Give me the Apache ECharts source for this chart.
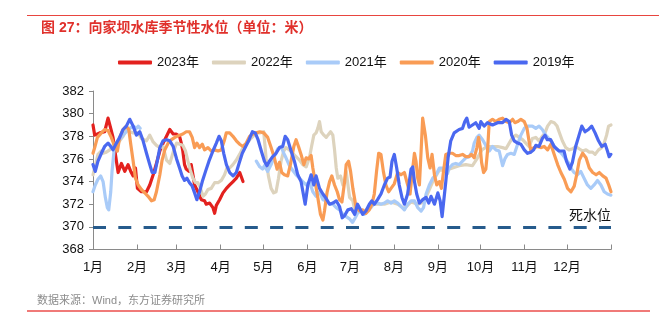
<!DOCTYPE html>
<html>
<head>
<meta charset="utf-8">
<script src="https://cdn.jsdelivr.net/npm/echarts@6/dist/echarts.min.js"></script>
<style>html,body{margin:0;padding:0;background:#fff}#c{width:659px;height:325px}</style>
</head>
<body>
<div id="c"></div>
<script>
// ---- data (x = day of year, y = water level in metres) ----
const monthLabels = ['1月','2月','3月','4月','5月','6月','7月','8月','9月','10月','11月','12月'];
const monthStarts = [0,31,59,90,120,151,181,212,243,273,304,334];
const yearEnd = 365;
const seriesNames = ['2023年','2022年','2021年','2020年','2019年'];
const deadLevel = 370;
const deadLabel = '死水位';

const s2023 = [[0,379.0],[1.2,378.1],[4.7,378.3],[8.2,378.4],[10.6,379.6],[12.5,378.7],[14.1,377.9],[16.5,375.8],[17.7,374.8],[20,375.6],[22.4,374.9],[24.7,375.5],[26.6,374.9],[28.3,374.5],[29.9,375.2],[31.3,373.4],[34.1,373.1],[37.7,373.1],[40,373.7],[42.4,374.6],[44.7,375.6],[47.1,376.7],[49.4,377.4],[51.8,378.0],[54.1,378.6],[56.5,378.2],[58.6,378.2],[61,378.0],[62.2,377.4],[63.3,376.7],[64.5,375.5],[65.7,375.1],[67.6,374.9],[69.2,375.5],[70.4,374.6],[71.6,373.7],[73.9,373.1],[76.3,372.4],[78.6,372.3],[79.8,372.0],[82.2,372.1],[84.5,371.7],[85.7,371.2],[86.9,371.9],[89.2,372.4],[91.6,373.0],[94,373.4],[96.3,373.7],[98.7,374.0],[101,374.3],[103.4,374.8],[105.7,374.0]];

const s2022 = [[0,374.6],[2,375.6],[3.5,376.4],[5.9,376.7],[7.1,376.5],[9.4,376.6],[11.8,376.8],[14.1,377.2],[16.5,377.4],[18.8,377.6],[21.2,378.0],[23.5,378.6],[25.9,378.4],[28.3,378.3],[31.8,378.3],[34.1,377.8],[37.7,377.6],[40,378.1],[42.4,377.5],[44.7,377.2],[47.1,377.0],[49.4,377.1],[51.8,375.9],[54.1,375.6],[56.5,376.6],[58.9,377.4],[61,377.3],[63.3,377.2],[65.2,376.7],[66.9,375.8],[68.6,375.0],[70.4,374.3],[72.3,373.9],[73.9,373.9],[75.5,373.5],[77.5,372.7],[79.2,372.9],[81,373.3],[83.3,373.4],[85.7,373.9],[88.1,373.9],[90.4,374.1],[92.7,374.6],[94.4,375.2],[96.3,375.2],[98.6,375.5],[101,375.9],[103.3,376.4],[105.7,377.0],[108,377.3],[110.4,377.7],[112.7,378.0],[115.1,378.3],[117.5,378.3],[120.3,378.4],[122,376.0],[123.6,374.5],[125.5,373.4],[127.3,373.0],[129,373.1],[130.7,374.3],[132.5,375.8],[134.4,376.7],[136,377.0],[138.4,376.8],[140.7,376.5],[143.1,376.2],[145.5,375.9],[147.8,375.5],[150.2,375.3],[152.5,376.1],[154,377.1],[155.6,378.1],[157.2,378.3],[158.4,378.7],[159.6,379.3],[160.8,378.4],[162.7,378.1],[164.3,377.9],[165.5,378.1],[167.4,378.4],[169,378.1],[170.2,376.8],[171.4,375.2],[172.5,374.3],[174.4,374.5],[176.1,373.7],[177.3,374.0],[178.4,374.9],[180.8,372.6],[183.1,372.3],[184.4,371.5],[186.4,371.5],[190,371.3],[193.5,371.6],[198.2,372.0],[205.3,372.0],[210,372.2],[214.7,372.0],[219.4,371.6],[224.1,372.2],[229,372.0],[233,372.2],[236,373.0],[239.4,374.0],[244,375.0],[248.6,375.0],[253.3,375.2],[258,375.4],[262.7,375.5],[267.4,375.4],[270.5,376.0],[274,376.8],[278,377.1],[281.5,377.1],[285.1,377.1],[288.6,377.0],[291,376.9],[293.3,377.4],[295.7,377.9],[298,378.1],[300.3,377.9],[302.7,377.7],[305,377.4],[307.2,377.1],[309.6,377.8],[312,377.9],[314.3,377.6],[316.6,378.0],[318.5,378.3],[320.3,378.9],[322.6,379.3],[325,379.2],[327,378.9],[328.4,378.4],[330.7,377.6],[333.1,377.0],[335.4,376.8],[338,376.9],[340.1,377.1],[342.5,376.9],[345,376.7],[347.4,376.8],[349.7,376.6],[352,376.6],[353.8,376.4],[356.2,376.8],[358.5,377.0],[360.2,377.4],[361.9,378.1],[363.3,378.9],[365,379.0]];

const s2021 = [[0,373.1],[1.6,373.7],[3.5,374.2],[5.4,374.5],[7.1,374.0],[8.7,372.6],[10.1,371.7],[11.1,371.5],[12.5,373.1],[13.4,374.9],[14.8,376.7],[16.5,377.4],[18.8,377.7],[21.2,378.1],[23.5,378.4],[25.9,378.7],[28.3,378.9],[30.6,378.7],[31.8,378.9],[33.2,378.7],[74,null],[115.1,375.8],[117.5,375.3],[119.5,375.1],[120.8,375.4],[123.1,374.9],[125.5,375.5],[127.8,376.2],[130.2,376.9],[132.5,377.1],[134.4,376.5],[136,376.1],[138.4,375.4],[140.7,375.0],[143.1,374.6],[145.5,374.3],[147.8,374.0],[150.2,373.7],[152.5,374.0],[154.9,373.1],[157.2,372.7],[159.6,373.1],[162,372.4],[164.3,372.3],[166.7,372.0],[169,372.0],[171.4,371.7],[173.7,371.5],[176.1,371.1],[178.4,370.9],[180.8,370.7],[182.9,370.4],[184.8,370.8],[186.4,371.2],[188.8,371.4],[191.2,371.1],[193.5,371.5],[195.9,371.7],[198.2,372.1],[200.6,372.1],[202.9,372.0],[205.3,372.1],[207.6,372.3],[210,372.1],[212.3,372.3],[214.7,372.1],[217,371.8],[219.4,371.5],[221.7,372.0],[224.1,372.3],[226.5,372.3],[228.8,371.7],[231.2,371.4],[232.9,371.7],[234.7,372.9],[237,373.7],[239.4,374.3],[241.7,374.6],[244.1,375.2],[247.4,375.2],[249.8,374.7],[251,375.2],[253.3,375.5],[255.6,375.6],[258,375.5],[260.4,375.8],[262.7,376.1],[265,376.2],[267.4,376.7],[268.6,377.4],[270.5,377.9],[272.1,378.1],[274.5,377.7],[276.8,377.2],[279.2,376.7],[281.5,377.1],[283.9,376.8],[286.2,376.7],[288.6,375.4],[290.2,376.0],[292.1,376.4],[294.5,376.5],[296.8,376.4],[299.2,377.3],[301.5,378.1],[303.9,378.7],[306.2,378.9],[307.2,379.0],[309.6,378.9],[312,378.7],[314.3,378.9],[316.6,378.6],[319,378.1],[321.3,377.8],[323.7,377.4],[326.1,376.9],[328.4,376.7],[330.7,376.4],[333.1,376.0],[335.4,375.6],[337.3,375.1],[339,374.8],[341.3,374.6],[343.7,374.9],[346,374.3],[348.4,373.7],[350.8,373.4],[353.1,373.7],[355.5,374.1],[357.9,373.7],[360.2,373.1],[362.5,372.9],[364.9,372.8]];

const s2020 = [[0,376.5],[1.2,377.0],[3.1,377.9],[5.9,378.3],[8.2,378.6],[10.6,378.5],[12.9,377.9],[15.3,377.1],[17.2,376.7],[18.8,377.9],[21.2,378.6],[23.5,378.9],[25.2,378.6],[26.6,377.3],[28.3,375.8],[29.9,374.3],[31.8,373.7],[34.1,373.3],[36.5,373.0],[38.8,372.7],[41.2,372.3],[43.1,372.4],[44.7,373.1],[47.1,374.6],[48.7,375.9],[50.6,376.8],[53,377.4],[55.3,377.7],[57.7,377.9],[61,378.1],[63.3,378.2],[65.7,378.4],[68,378.4],[69.9,377.9],[71.6,377.0],[73.2,377.4],[75.1,377.0],[77,377.3],[78.6,376.8],[81,377.0],[83.3,376.7],[85.7,376.8],[88.1,376.7],[90.4,376.8],[92.7,377.7],[93.9,378.3],[96.3,378.3],[98.6,378.0],[101,377.6],[103.3,377.3],[105.7,377.1],[108,377.4],[110.4,378.0],[112.7,378.2],[115.1,378.3],[117.5,378.4],[120.3,378.3],[123.1,377.9],[125.5,377.0],[127.8,376.1],[129.7,375.1],[131.4,375.7],[133,374.8],[134.9,374.6],[137.2,374.5],[139.1,375.5],[141.5,377.1],[143.1,377.7],[144.8,377.1],[146.6,376.4],[148.6,375.5],[150.2,376.1],[151.9,376.0],[153.7,376.3],[154.9,375.2],[156.5,374.0],[158.4,372.6],[160.3,371.1],[162,370.6],[163.1,371.4],[165,373.1],[166.7,374.0],[168.3,374.5],[170.2,373.7],[172.1,373.1],[173.7,372.4],[175.4,372.2],[177.3,374.0],[178.4,375.5],[180.1,375.8],[181.5,374.9],[183.1,373.4],[185.4,371.7],[187.7,371.4],[190,371.5],[192.3,371.2],[194.7,371.5],[196.5,372.0],[198.2,372.9],[199.8,374.9],[201.3,376.5],[202.9,376.4],[204.6,374.9],[206.4,373.7],[208.3,373.1],[210,373.4],[212.3,373.8],[214.7,374.8],[217,374.6],[219.4,374.8],[221.7,373.7],[223.4,372.9],[224.8,374.6],[226.5,376.5],[227.6,375.8],[228.8,374.3],[230,373.7],[231.2,376.7],[232.3,379.6],[234.2,378.1],[235.9,376.1],[237.5,375.2],[238.9,376.4],[240.6,374.6],[242.2,373.7],[244.1,374.0],[245.5,373.4],[247.4,375.3],[248.6,376.4],[250.9,376.5],[253.3,376.5],[255.6,376.3],[258,376.3],[260.4,376.4],[262.7,376.2],[265,376.2],[266.6,376.4],[268.6,376.1],[270.5,377.0],[271.7,377.9],[272.8,377.1],[273.8,375.7],[275.2,374.8],[276.8,375.1],[278,376.7],[279.2,379.3],[281.5,379.5],[283.8,379.3],[286.2,379.5],[288.6,379.6],[291,379.3],[293.3,379.2],[295.7,379.5],[297.3,379.2],[299.2,379.3],[301.5,379.5],[303.9,379.3],[305.8,378.7],[307.2,377.6],[308.4,376.8],[310.8,377.0],[313.2,377.1],[315.5,377.0],[317.9,377.1],[320.3,376.8],[322.6,377.3],[325,376.4],[327.4,375.5],[329.7,374.8],[332.1,374.2],[334.4,373.4],[336.8,373.1],[339.1,373.6],[340.8,374.6],[342.7,375.9],[345,376.5],[347.4,376.1],[349.7,375.2],[352.1,374.8],[354.5,374.6],[356.8,374.8],[359.2,374.5],[361.5,374.3],[363.4,373.7],[365,373.1]];

const s2019 = [[0,375.5],[1.6,374.9],[3.5,375.8],[5.9,376.5],[8.2,377.1],[10.6,377.4],[12.5,377.1],[14.1,376.8],[16.5,377.4],[18.8,377.9],[21.2,378.6],[23.5,378.9],[25.9,379.5],[28.3,378.9],[30.6,378.1],[33,378.4],[35.3,377.6],[37.7,376.5],[40,375.5],[41.7,374.8],[43.6,374.8],[45.4,375.9],[47.1,377.0],[49.4,377.6],[51.8,377.7],[54.1,377.6],[56.5,377.1],[58.9,376.0],[61,375.2],[62.8,374.5],[64.5,374.1],[66.2,374.3],[68,373.9],[69.9,373.6],[71.6,373.0],[73.2,372.4],[75.1,373.1],[77,374.0],[79.3,374.9],[81.7,375.8],[84.5,376.7],[86.9,377.4],[88.8,378.0],[90.4,377.6],[92.1,376.5],[94,375.5],[96.3,374.8],[98.7,374.5],[101,374.8],[102.9,375.6],[105.2,376.5],[107.6,377.1],[110,377.7],[112.3,378.4],[114.3,378.3],[116.3,377.7],[118.6,376.7],[120.8,375.8],[122.6,375.4],[124.3,375.8],[126.6,376.2],[129,376.5],[131.4,377.0],[133.7,377.1],[135.4,378.0],[137.2,377.7],[139.6,376.7],[141.9,375.8],[144.3,374.6],[146.6,374.0],[149.5,372.0],[151.4,373.7],[153.7,374.6],[155.6,373.7],[157.2,374.5],[159.6,373.4],[162,372.9],[164.3,372.5],[166.7,372.0],[169,372.1],[171.4,372.3],[173.7,371.8],[175.6,370.8],[177.3,371.0],[179.6,371.5],[182,371.6],[184.4,371.1],[186.4,372.0],[188.1,371.6],[190,371.1],[192.3,371.4],[194.7,372.0],[196.5,372.3],[198.2,372.0],[200.5,372.4],[202.9,372.9],[205.3,373.7],[207.6,374.3],[209.3,374.4],[210.7,375.8],[212.3,376.4],[214,375.2],[215.8,373.7],[217.7,372.6],[219.4,372.0],[221.7,372.9],[224.1,375.1],[225.3,375.3],[226.5,374.0],[228.1,372.9],[230,372.1],[232.3,372.4],[234.7,372.6],[236.6,372.1],[238.2,372.7],[240.6,372.0],[243,373.0],[244.6,372.3],[246,370.9],[246.9,372.0],[248.6,374.0],[250.2,376.1],[252.1,377.6],[254.5,378.3],[258,378.6],[260.4,378.7],[262,379.3],[263.4,379.6],[265,378.8],[267.4,379.0],[269.7,379.2],[272.1,378.7],[273.3,379.3],[275.6,378.9],[278,379.2],[281.5,379.0],[285.1,379.2],[288.6,379.2],[291,379.5],[293.3,379.3],[295,378.1],[296.8,377.6],[299.2,377.4],[301.5,377.3],[303.9,376.8],[306.2,376.5],[308.6,376.6],[310.5,376.8],[312,377.2],[314.3,377.1],[316.6,377.8],[318.5,378.1],[320.1,377.7],[322.5,377.7],[324.9,377.1],[328.4,376.7],[331.9,376.7],[333.6,375.8],[336,375.1],[337.8,375.7],[340.1,377.1],[342.5,378.1],[344.4,378.9],[346.7,378.4],[349.1,378.6],[351.4,378.9],[353.8,378.3],[356.2,377.6],[358.5,377.1],[360.9,377.3],[362.5,376.7],[363.7,376.2],[364.9,376.4]];

const seriesData = [s2023, s2022, s2021, s2020, s2019];
const seriesColors = ['#e3211e', '#ddd3bd', '#a9cbf8', '#f99c55', '#4a68f0'];

const FONT = "'Liberation Sans', 'Noto Sans CJK SC', sans-serif";
const chart = echarts.init(document.getElementById('c'), null, {renderer: 'canvas'});

const series = seriesNames.map((n, i) => ({
  name: n,
  type: 'line',
  data: seriesData[i],
  showSymbol: false,
  symbol: 'none',
  connectNulls: false,
  lineStyle: {color: seriesColors[i], width: 3.2, cap: 'round', join: 'round'},
  itemStyle: {color: seriesColors[i]},
  emphasis: {disabled: true},
  animation: false
}));
series.push({
  name: deadLabel,
  type: 'line',
  data: [],
  silent: true,
  markLine: {
    silent: true,
    symbol: 'none',
    animation: false,
    data: [{yAxis: deadLevel}],
    lineStyle: {color: '#265b8c', width: 3, type: [13, 12.3]},
    label: {show: true, position: 'insideEndTop', formatter: deadLabel, color: '#111', fontSize: 14, fontFamily: FONT, distance: [0, 4]}
  }
});

chart.setOption({
  backgroundColor: '#fff',
  animation: false,
  textStyle: {fontFamily: FONT},
  title: {
    text: '图 27：向家坝水库季节性水位（单位：米）',
    left: 36, top: 16,
    textStyle: {color: '#e0302b', fontSize: 14, fontWeight: 'bold', fontFamily: FONT}
  },
  legend: {
    data: seriesNames,
    left: 113, top: 51,
    itemWidth: 34, itemHeight: 4, itemGap: 13,
    icon: 'roundRect',
    textStyle: {color: '#111', fontSize: 13, fontFamily: FONT}
  },
  grid: {left: 93, right: 48, top: 91, bottom: 75.5, containLabel: false},
  xAxis: {
    type: 'value', min: 0, max: yearEnd,
    axisLine: {show: true, lineStyle: {color: '#8a8a8a', width: 1}},
    axisTick: {show: true, inside: true, length: 5, lineStyle: {color: '#8a8a8a'}, customValues: monthStarts.concat([yearEnd])},
    axisLabel: {
      customValues: monthStarts,
      formatter: v => monthLabels[monthStarts.indexOf(v)] || '',
      color: '#111', fontSize: 13, margin: 11, fontFamily: FONT
    },
    splitLine: {show: false}
  },
  yAxis: {
    type: 'value', min: 368, max: 382, interval: 2,
    axisLine: {show: true, lineStyle: {color: '#8a8a8a', width: 1}},
    axisTick: {show: true, inside: false, length: 4, lineStyle: {color: '#8a8a8a'}},
    axisLabel: {color: '#111', fontSize: 13, margin: 9, fontFamily: FONT},
    splitLine: {show: false}
  },
  graphic: [
    {type: 'line', shape: {x1: 27, y1: 15.5, x2: 659, y2: 15.5}, style: {stroke: '#e8453f', lineWidth: 1}},
    {type: 'line', shape: {x1: 27, y1: 311, x2: 650, y2: 311}, style: {stroke: '#f07a78', lineWidth: 2}},
    {type: 'text', left: 37, top: 295, style: {text: '数据来源：Wind，东方证券研究所', fill: '#8c8c8c', fontSize: 11, fontFamily: FONT}}
  ],
  series: series
});
</script>
</body>
</html>
